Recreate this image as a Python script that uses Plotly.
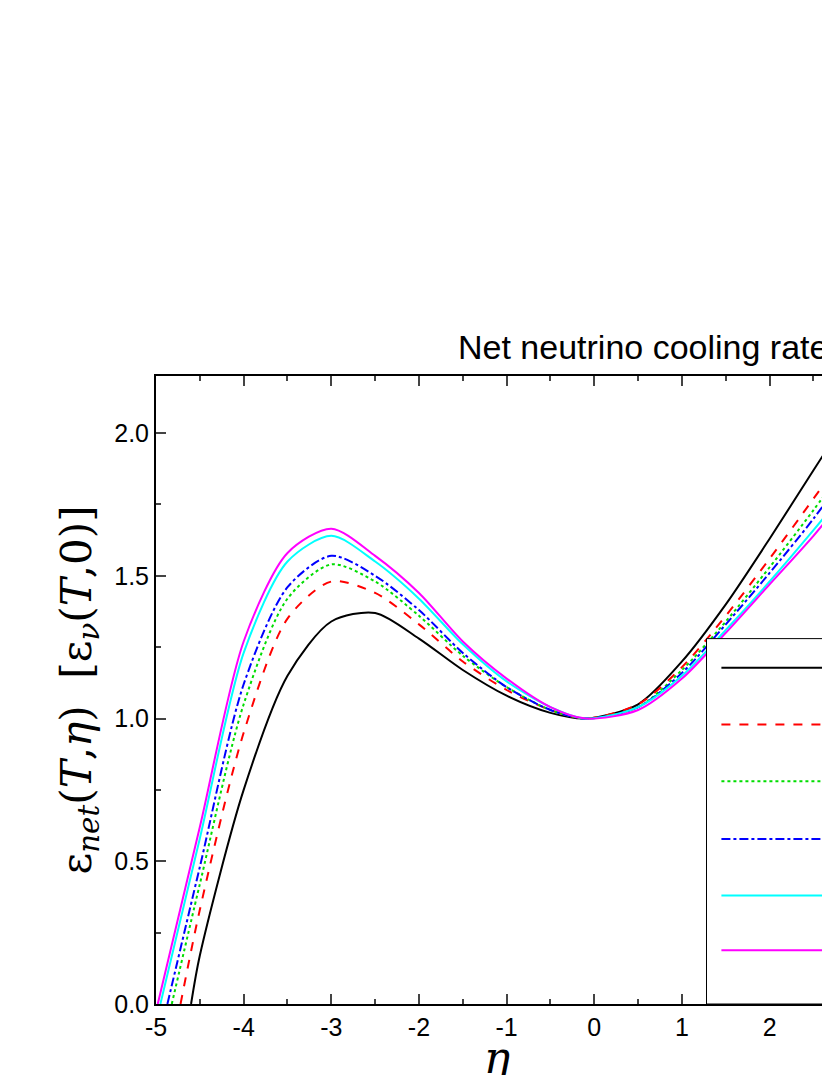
import plotly.graph_objects as go

eta = [-5.0, -4.5, -4.0, -3.5, -3.0, -2.5, -2.0, -1.5, -1.0, -0.5, -0.1, 0.5, 1.0, 1.5, 2.0, 2.5, 2.9]
zero_cross = [-4.6, -4.72, -4.82, -4.87, -4.95, -4.98]
curves = {
    "black":   [None, 0.17, 0.75, 1.15, 1.34, 1.37, 1.28, 1.17, 1.08, 1.02, 1.0, 1.05, 1.2, 1.4, 1.63, 1.87, 2.06],
    "red":     [None, 0.33, 0.95, 1.35, 1.48, 1.44, 1.33, 1.2, 1.1, 1.03, 1.0, 1.05, 1.18, 1.36, 1.56, 1.77, 1.94],
    "green":   [None, 0.42, 1.05, 1.42, 1.54, 1.48, 1.36, 1.22, 1.11, 1.03, 1.0, 1.04, 1.17, 1.34, 1.53, 1.73, 1.9],
    "blue":    [None, 0.48, 1.12, 1.46, 1.57, 1.5, 1.38, 1.23, 1.11, 1.03, 1.0, 1.04, 1.16, 1.33, 1.51, 1.7, 1.87],
    "cyan":    [None, 0.58, 1.23, 1.55, 1.64, 1.55, 1.42, 1.26, 1.13, 1.04, 1.0, 1.04, 1.15, 1.31, 1.48, 1.66, 1.81],
    "magenta": [None, 0.62, 1.27, 1.58, 1.665, 1.57, 1.44, 1.27, 1.14, 1.04, 1.0, 1.03, 1.14, 1.3, 1.47, 1.64, 1.79],
}
dashes = ["solid", "dash", "dot", "dashdot", "solid", "solid"]
colors = ["black", "red", "#00dd00", "blue", "cyan", "magenta"]
x_ticks = [-5, -4, -3, -2, -1, 0, 1, 2]
x_labels = ["-5", "-4", "-3", "-2", "-1", "0", "1", "2"]

fig = go.Figure()
for (name, vals), z, d, c in zip(curves.items(), zero_cross, dashes, colors):
    xs = [z] + eta[1:]
    ys = [0.0] + vals[1:]
    fig.add_trace(go.Scatter(x=xs, y=ys, mode="lines",
                             line=dict(color=c, dash=d, width=2, shape="spline", smoothing=0.8),
                             showlegend=False))

shapes = [dict(type="rect", xref="x", yref="y", x0=1.28, x1=3.2, y0=0, y1=1.28,
               line=dict(color="black", width=1), fillcolor="white", layer="above")]
ys_leg = [1.178, 0.979, 0.78, 0.578, 0.38, 0.188]
for yl, d, c in zip(ys_leg, dashes, colors):
    shapes.append(dict(type="line", xref="x", yref="y", x0=1.45, x1=2.6, y0=yl, y1=yl,
                       line=dict(color=c, dash=d, width=2), layer="above"))
fig.update_layout(shapes=shapes)
for yl in ys_leg:
    fig.add_annotation(x=2.71, y=yl - 0.04, xref="x", yref="y", text="λ", showarrow=False,
                       xanchor="left", font=dict(size=30, family="Liberation Serif", color="black"))

fig.add_annotation(x=365/830, y=1.0, xref="paper", yref="paper", yanchor="bottom", yshift=8,
                   text="Net neutrino cooling rate", showarrow=False, xanchor="left",
                   font=dict(size=34, family="Liberation Sans", color="black"))

fig.update_layout(
    width=830, height=1075, plot_bgcolor="white", paper_bgcolor="white",
    margin=dict(l=148, r=0, t=368, b=79, autoexpand=False),
    font=dict(family="Liberation Sans", size=25, color="black"),
    xaxis=dict(range=[-5, 2.78], tickvals=x_ticks, ticktext=x_labels, ticks="inside", ticklen=10,
               tickwidth=2, showline=True, linewidth=2, linecolor="black", mirror="ticks", showgrid=False,
               zeroline=False, minor=dict(dtick=0.5, ticks="inside", ticklen=5, tickwidth=2),
               title=dict(text="<i>η</i>", font=dict(size=44, family="DejaVu Serif"), standoff=2)),
    yaxis=dict(range=[0, 2.2], tickvals=[0, 0.5, 1.0, 1.5, 2.0], ticktext=["0.0", "0.5", "1.0", "1.5", "2.0"],
               ticks="inside", ticklen=10, tickwidth=2, showline=True, linewidth=2, linecolor="black",
               mirror="ticks", showgrid=False, zeroline=False,
               minor=dict(dtick=0.25, ticks="inside", ticklen=5, tickwidth=2),
               title=dict(text="ε<sub><i>net</i></sub>(<i>T</i>,<i>η</i>)  [ε<sub><i>ν</i></sub>(<i>T</i>,0)]",
                          font=dict(size=42, family="DejaVu Serif"), standoff=10)),
)
fig.write_html("out.html")
